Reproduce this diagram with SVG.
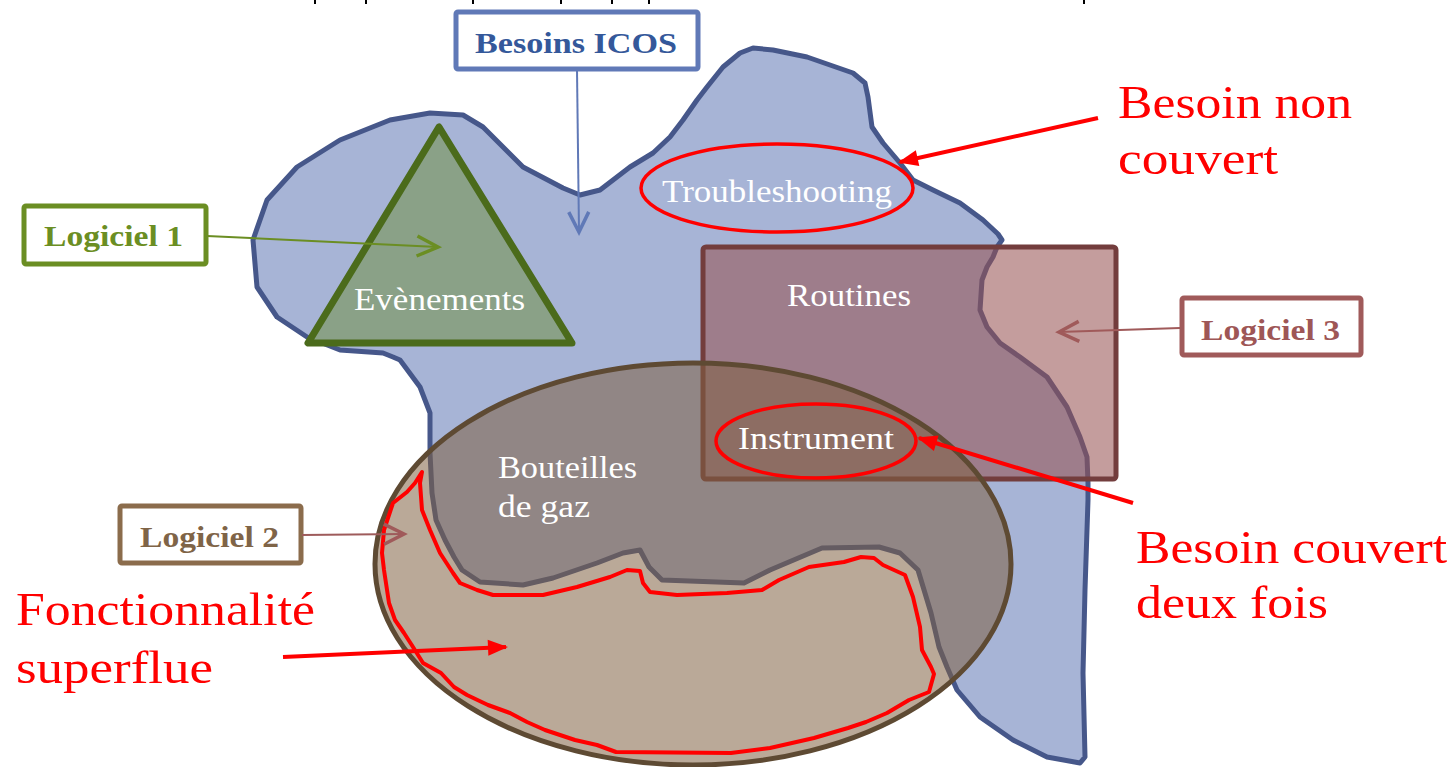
<svg xmlns="http://www.w3.org/2000/svg" width="1453" height="767" viewBox="0 0 1453 767">
<style>
.lbl{font-family:"Liberation Serif","Times New Roman",serif;font-weight:bold;font-size:30px}
.wt{font-family:"Liberation Serif","Times New Roman",serif;font-size:32px;fill:#ffffff}
.rt{font-family:"Liberation Serif","Times New Roman",serif;font-size:46px;fill:#ff0000}
.redring{fill:none;stroke:#ff0000;stroke-width:3.5}
</style>
<defs>
<marker id="vBlue" markerUnits="userSpaceOnUse" viewBox="-24 -13 28 26" refX="0" refY="0" markerWidth="28" markerHeight="26" orient="auto"><path d="M-20,-10 L0,0 L-20,10" fill="none" stroke="#6079b7" stroke-width="3.5"/></marker>
<marker id="vGreen" markerUnits="userSpaceOnUse" viewBox="-24 -13 28 26" refX="0" refY="0" markerWidth="28" markerHeight="26" orient="auto"><path d="M-21,-10 L0,0 L-21,10" fill="none" stroke="#6b8e23" stroke-width="3.5"/></marker>
<marker id="vMaroon" markerUnits="userSpaceOnUse" viewBox="-24 -13 28 26" refX="0" refY="0" markerWidth="28" markerHeight="26" orient="auto"><path d="M-20,-10 L0,0 L-20,10" fill="none" stroke="#a05a5a" stroke-width="3.5"/></marker>
<marker id="redHead" markerUnits="userSpaceOnUse" viewBox="-20 -10 24 20" refX="0" refY="0" markerWidth="24" markerHeight="20" orient="auto"><path d="M-18,-8 L2,0 L-18,8 Z" fill="#ff0000"/></marker>
</defs>
<rect width="1453" height="767" fill="#ffffff"/>
<g id="top-marks" fill="#000000">
<rect x="314" y="0" width="2" height="4"/><rect x="365" y="0" width="2" height="4"/><rect x="472" y="0" width="2" height="4"/><rect x="560" y="0" width="2" height="4"/><rect x="611" y="0" width="2" height="4"/><rect x="648" y="0" width="2" height="4"/><rect x="1083" y="0" width="2" height="4"/>
</g>
<g id="besoins-icos-area">
<path d="M390,120 L430,113 L463,115 L483,127 L523,167 L563,188 L580,195 L600,190 L630,167 L653,153 L670,137 L683,120 L697,100 L707,87 L723,67 L740,53 L753,48 L773,50 L807,57 L853,73 L865,83 L868,97 L872,127 L883,143 L900,163 L913,180 L933,190 L960,203 L983,220 L998,234 L1002,240 L997,247 L993,257 L987,267 L982,280 L980,310 L987,327 L1000,343 L1020,357 L1047,377 L1067,407 L1080,437 L1087,457 L1088,483 L1088,500 L1085,590 L1083,673 L1085,757 L1080,763 L1047,757 L1013,740 L980,717 L957,690 L947,667 L939,647 L931,613 L918,570 L900,553 L879,547 L822,548 L770,570 L744,583 L662,580 L649,567 L640,550 L623,553 L597,563 L553,578 L523,585 L480,582 L462,570 L454,557 L445,540 L436,520 L432,493 L430,453 L430,413 L420,387 L400,360 L393,357 L383,353 L340,350 L307,337 L277,317 L257,287 L253,240 L267,200 L297,167 L340,140 Z" fill="#a7b4d6" stroke="#46578a" stroke-width="5" stroke-linejoin="round"/>
</g>
<g id="evenements">
<polygon points="439,127 308,343 572,343" fill="#8aa187" stroke="#4b6b1b" stroke-width="7" stroke-linejoin="round"/>
<text class="wt" x="354" y="310" textLength="171" lengthAdjust="spacingAndGlyphs">Evènements</text>
</g>
<g id="logiciel3-area">
<rect x="703" y="247" width="413" height="232" rx="3" fill="#985352" fill-opacity="0.57" stroke="#733d3d" stroke-width="5"/>
<text class="wt" x="787" y="306" textLength="124" lengthAdjust="spacingAndGlyphs">Routines</text>
</g>
<g id="logiciel2-area">
<ellipse cx="693" cy="564" rx="318" ry="201" fill="#7f6040" fill-opacity="0.54" stroke="#5e4a33" stroke-width="5"/>
<text class="wt" x="498" y="478" textLength="139" lengthAdjust="spacingAndGlyphs">Bouteilles</text>
<text class="wt" x="498" y="517" textLength="92" lengthAdjust="spacingAndGlyphs">de gaz</text>
</g>
<g id="superflue-zone">
<path d="M422,472 L420,483 L422,510 L430,530 L440,553 L453,573 L460,583 L477,590 L493,595 L543,595 L577,587 L610,577 L627,570 L640,571 L643,583 L650,592 L677,595 L727,593 L762,590 L779,580 L809,567 L844,562 L861,557 L874,558 L883,565 L905,575 L913,597 L920,627 L922,650 L931,667 L934,674 L929,692 L909,700 L887,713 L866,722 L848,728 L814,738 L770,748 L731,753 L616,752 L597,745 L575,740 L545,730 L527,722 L510,713 L488,705 L467,695 L454,687 L441,673 L423,663 L413,647 L404,633 L395,620 L389,603 L384,570 L382,553 L384,530 L393,503 L407,492 L415,483 Z" fill="none" stroke="#ff0000" stroke-width="4" stroke-linejoin="round"/>
</g>
<g id="troubleshooting">
<ellipse class="redring" cx="777" cy="188" rx="136" ry="44"/>
<text class="wt" x="662" y="202" textLength="230" lengthAdjust="spacingAndGlyphs">Troubleshooting</text>
</g>
<g id="instrument">
<ellipse class="redring" cx="816" cy="441" rx="100" ry="37"/>
<text class="wt" x="738" y="449" textLength="156" lengthAdjust="spacingAndGlyphs">Instrument</text>
</g>
<g id="besoins-icos">
<rect x="456" y="12" width="242" height="57" rx="2" fill="#ffffff" stroke="#6079b7" stroke-width="5"/>
<text class="lbl" x="475" y="53" fill="#34589a" textLength="202" lengthAdjust="spacingAndGlyphs">Besoins ICOS</text>
</g>
<g id="logiciel1">
<rect x="24" y="206" width="182" height="58" rx="2" fill="#ffffff" stroke="#6b8e23" stroke-width="5"/>
<text class="lbl" x="44" y="246" fill="#6b8e23" textLength="139" lengthAdjust="spacingAndGlyphs">Logiciel 1</text>
</g>
<g id="logiciel2">
<rect x="120" y="506" width="181" height="57" rx="2" fill="#ffffff" stroke="#8b6c4c" stroke-width="5"/>
<text class="lbl" x="140" y="547" fill="#7f6447" textLength="139" lengthAdjust="spacingAndGlyphs">Logiciel 2</text>
</g>
<g id="logiciel3">
<rect x="1182" y="298" width="179" height="57" rx="2" fill="#ffffff" stroke="#a05a5a" stroke-width="5"/>
<text class="lbl" x="1201" y="340" fill="#9e5656" textLength="139" lengthAdjust="spacingAndGlyphs">Logiciel 3</text>
</g>
<g id="annotations">
<text class="rt" x="1118" y="118" textLength="234" lengthAdjust="spacingAndGlyphs">Besoin non</text>
<text class="rt" x="1118" y="174" textLength="160" lengthAdjust="spacingAndGlyphs">couvert</text>
<text class="rt" x="1136" y="563" textLength="311" lengthAdjust="spacingAndGlyphs">Besoin couvert</text>
<text class="rt" x="1136" y="618" textLength="192" lengthAdjust="spacingAndGlyphs">deux fois</text>
<text class="rt" x="16" y="625" textLength="299" lengthAdjust="spacingAndGlyphs">Fonctionnalité</text>
<text class="rt" x="16" y="683" textLength="197" lengthAdjust="spacingAndGlyphs">superflue</text>
</g>
<g id="connectors" fill="none">
<line x1="577" y1="70" x2="579" y2="232" stroke="#6079b7" stroke-width="2" marker-end="url(#vBlue)"/>
<line x1="207" y1="236" x2="438" y2="247" stroke="#6b8e23" stroke-width="2" marker-end="url(#vGreen)"/>
<line x1="302" y1="535" x2="404" y2="534" stroke="#9e5b5b" stroke-width="2" marker-end="url(#vMaroon)"/>
<line x1="1180" y1="328" x2="1059" y2="332" stroke="#a05a5a" stroke-width="2" marker-end="url(#vMaroon)"/>
<line x1="1098" y1="118" x2="900" y2="162" stroke="#ff0000" stroke-width="4" marker-end="url(#redHead)"/>
<line x1="1133" y1="503" x2="919" y2="438" stroke="#ff0000" stroke-width="4" marker-end="url(#redHead)"/>
<line x1="283" y1="657" x2="506" y2="647" stroke="#ff0000" stroke-width="4" marker-end="url(#redHead)"/>
</g>
</svg>
